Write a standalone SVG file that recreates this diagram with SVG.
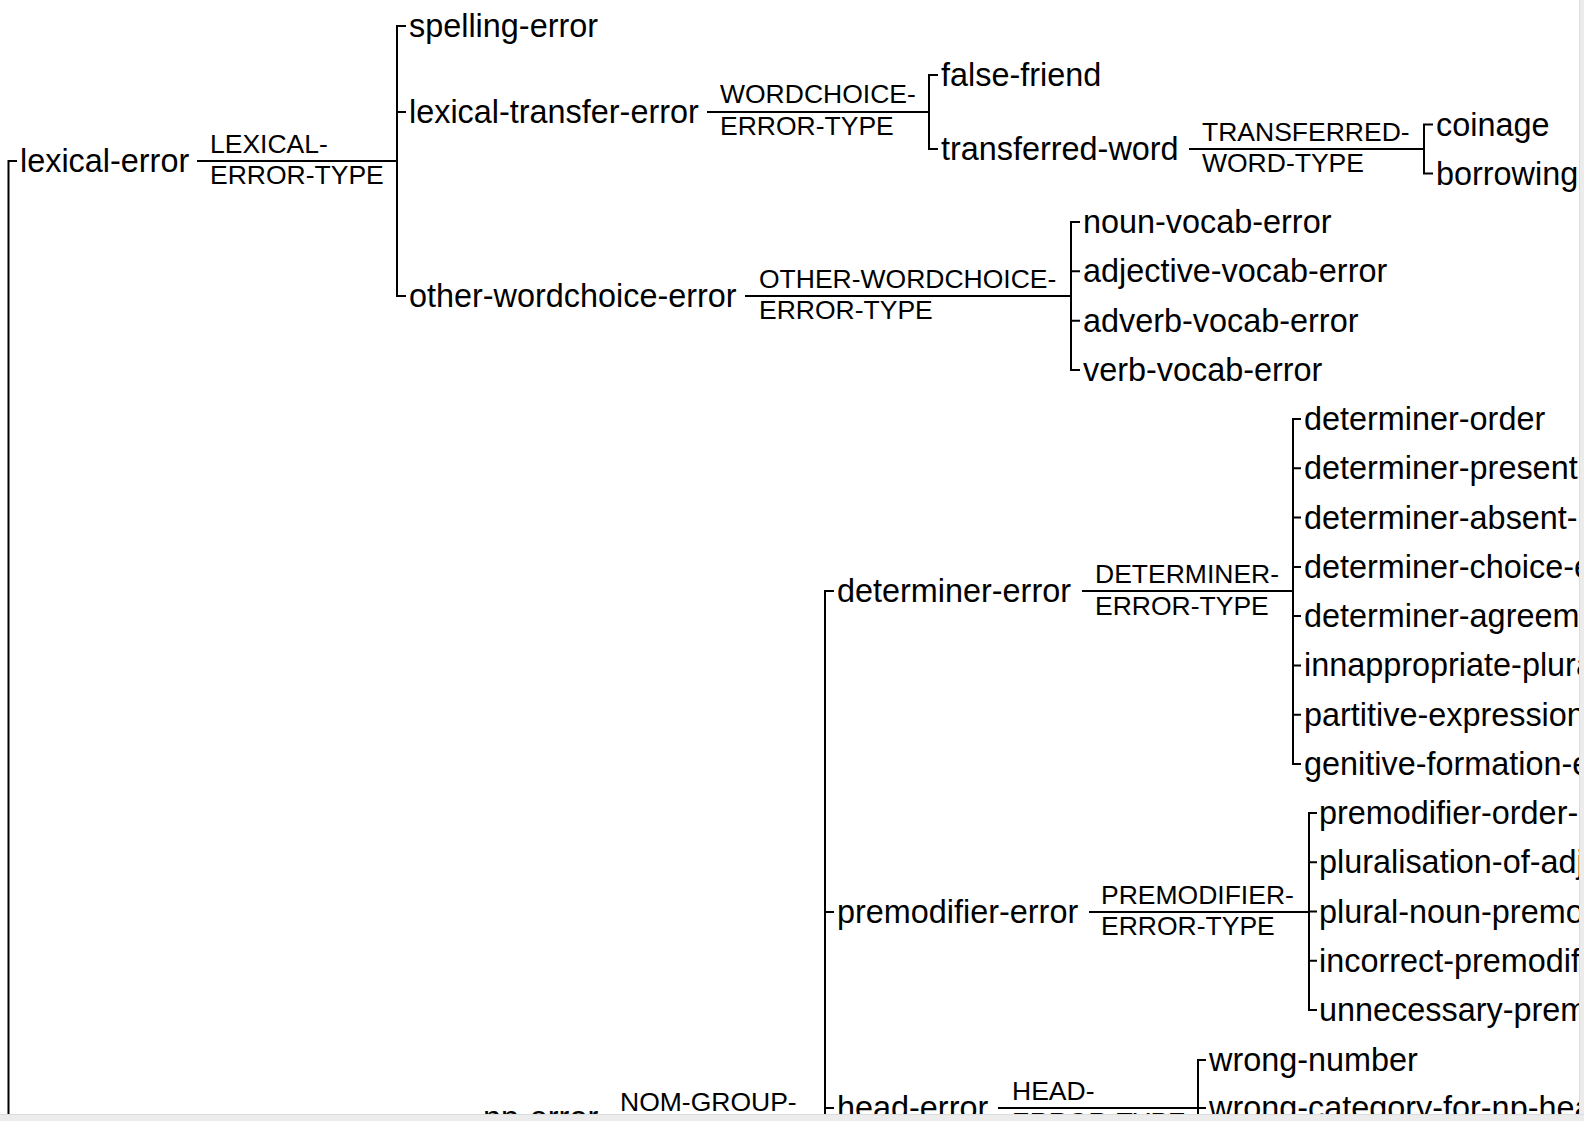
<svg xmlns="http://www.w3.org/2000/svg" width="1584" height="1121" viewBox="0 0 1584 1121">
<style>
.n{font-family:"Liberation Sans",Arial,Helvetica,sans-serif;font-size:32.4px;fill:#000}
.l{font-family:"Liberation Sans",Arial,Helvetica,sans-serif;font-size:26.5px;fill:#000}
.c{stroke:#000;stroke-width:2;fill:none}
</style>
<rect x="0" y="0" width="1584" height="1121" fill="#fff"/>
<g id="connectors" class="c">
<path d="M17,161 H8.5 V1114"/>
<path d="M197,161 H397"/>
<path d="M406,26 H397 V296 H406 M397,112 H406"/>
<path d="M707,112 H929"/>
<path d="M938,75 H929 V149 H938"/>
<path d="M1189,149 H1424"/>
<path d="M1433,124.5 H1424 V173.5 H1433"/>
<path d="M745,296 H1071"/>
<path d="M1080,222 H1071 V370 H1080 M1071,271.3 H1080 M1071,320.7 H1080"/>
<path d="M834,591 H825 V1114 M825,912 H834 M825,1108 H834"/>
<path d="M1082,591 H1293"/>
<path d="M1301,419 H1293 V764 H1301 M1293,468.3 H1301 M1293,517.6 H1301 M1293,566.9 H1301 M1293,616.1 H1301 M1293,665.4 H1301 M1293,714.7 H1301"/>
<path d="M1089,912 H1309"/>
<path d="M1317,813 H1309 V1010 H1317 M1309,862.3 H1317 M1309,911.5 H1317 M1309,960.8 H1317"/>
<path d="M998,1108 H1198"/>
<path d="M1206,1060 H1198 V1114 M1198,1108 H1206"/>
<path d="M600,1119 H825"/>
</g>
<g id="lexical-error"><text class="n" x="20" y="172">lexical-error</text></g>
<g id="lbl-lexical"><text class="l" x="210" y="152.5">LEXICAL-</text><text class="l" x="210" y="184">ERROR-TYPE</text></g>
<g id="spelling-error"><text class="n" x="409" y="37">spelling-error</text></g>
<g id="lexical-transfer-error"><text class="n" x="409" y="123">lexical-transfer-error</text></g>
<g id="other-wordchoice-error"><text class="n" x="409" y="307">other-wordchoice-error</text></g>
<g id="lbl-wordchoice"><text class="l" x="720" y="103">WORDCHOICE-</text><text class="l" x="720" y="134.5">ERROR-TYPE</text></g>
<g id="false-friend"><text class="n" x="941" y="86">false-friend</text></g>
<g id="transferred-word"><text class="n" x="941" y="160">transferred-word</text></g>
<g id="lbl-transferred"><text class="l" x="1202" y="140.5">TRANSFERRED-</text><text class="l" x="1202" y="172">WORD-TYPE</text></g>
<g id="coinage"><text class="n" x="1436" y="135.5">coinage</text></g>
<g id="borrowing"><text class="n" x="1436" y="184.5">borrowing</text></g>
<g id="lbl-other"><text class="l" x="759" y="287.5">OTHER-WORDCHOICE-</text><text class="l" x="759" y="319">ERROR-TYPE</text></g>
<g id="noun-vocab-error"><text class="n" x="1083" y="233">noun-vocab-error</text></g>
<g id="adjective-vocab-error"><text class="n" x="1083" y="282.3">adjective-vocab-error</text></g>
<g id="adverb-vocab-error"><text class="n" x="1083" y="331.7">adverb-vocab-error</text></g>
<g id="verb-vocab-error"><text class="n" x="1083" y="381">verb-vocab-error</text></g>
<g id="determiner-error"><text class="n" x="837" y="602">determiner-error</text></g>
<g id="lbl-determiner"><text class="l" x="1095" y="583">DETERMINER-</text><text class="l" x="1095" y="614.5">ERROR-TYPE</text></g>
<g id="determiner-order"><text class="n" x="1304" y="430">determiner-order</text></g>
<g id="determiner-present"><text class="n" x="1304" y="479.3">determiner-present-</text></g>
<g id="determiner-absent"><text class="n" x="1304" y="528.6">determiner-absent-</text></g>
<g id="determiner-choice"><text class="n" x="1304" y="577.9">determiner-choice-e</text></g>
<g id="determiner-agreement"><text class="n" x="1304" y="627.1">determiner-agreem</text></g>
<g id="innappropriate-plural"><text class="n" x="1304" y="676.4">innappropriate-plura</text></g>
<g id="partitive-expression"><text class="n" x="1304" y="725.7">partitive-expression</text></g>
<g id="genitive-formation"><text class="n" x="1304" y="775">genitive-formation-e</text></g>
<g id="premodifier-error"><text class="n" x="837" y="923">premodifier-error</text></g>
<g id="lbl-premodifier"><text class="l" x="1101" y="903.5">PREMODIFIER-</text><text class="l" x="1101" y="935">ERROR-TYPE</text></g>
<g id="premodifier-order"><text class="n" x="1319" y="824">premodifier-order-</text></g>
<g id="pluralisation"><text class="n" x="1319" y="873.3">pluralisation-of-adj</text></g>
<g id="plural-noun"><text class="n" x="1319" y="922.5">plural-noun-premo</text></g>
<g id="incorrect-premodifier"><text class="n" x="1319" y="971.8">incorrect-premodif</text></g>
<g id="unnecessary-premodifier"><text class="n" x="1319" y="1021">unnecessary-prem</text></g>
<g id="head-error"><text class="n" x="837" y="1119">head-error</text></g>
<g id="lbl-head"><text class="l" x="1012" y="1099.5">HEAD-</text><text class="l" x="1012" y="1131">ERROR-TYPE</text></g>
<g id="wrong-number"><text class="n" x="1209" y="1071">wrong-number</text></g>
<g id="wrong-category"><text class="n" x="1209" y="1119">wrong-category-for-np-hea</text></g>
<g id="np-error"><text class="n" x="483" y="1129">np-error</text></g>
<g id="lbl-nom"><text class="l" x="620" y="1110.5">NOM-GROUP-</text></g>
<g id="scrollbars">
<rect x="1579" y="0" width="5" height="1121" fill="#ececec"/>
<line x1="1579.5" y1="0" x2="1579.5" y2="1121" stroke="#dcdcdc" stroke-width="1"/>
<rect x="0" y="1114" width="1584" height="7" fill="#ececec"/>
<line x1="0" y1="1114.5" x2="1584" y2="1114.5" stroke="#dcdcdc" stroke-width="1"/>
</g>
</svg>
